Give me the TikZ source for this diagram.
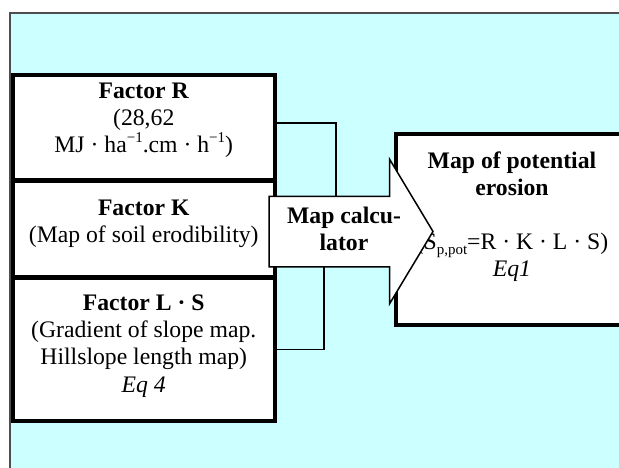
\documentclass[tikz,border=0pt]{standalone}
\usepackage{fontspec}
\setmainfont{Liberation Serif}
\usetikzlibrary{positioning}
\usetikzlibrary{shapes.arrows}
\definecolor{panelcyan}{HTML}{CCFFFF}
\definecolor{panelrule}{HTML}{4D4D4D}
\newcommand{\upidx}[1]{\raisebox{0.42em}{\fontsize{15}{15}\selectfont #1}}
\newcommand{\downidx}[1]{\raisebox{-0.22em}{\fontsize{15}{15}\selectfont #1}}
\tikzset{
    % Body text of the whole figure
    every node/.style={font=\fontsize{23.7}{27.2}\selectfont},
%
    % Heavy framed box around each input map
    factor box/.style={
        draw, line width=4pt, fill=white, rectangle,
        inner sep=0pt, minimum width=262.5pt},
%
    % Text set inside the boxes
    box text/.style={align=center, inner sep=0pt},
%
    % Thin feed lines into the calculator
    feed/.style={draw, line width=1.5pt},
%
    % The calculator drawn as a fat arrow
    calc arrow/.style={
        draw, line width=1.5pt, fill=white, single arrow,
        minimum height=164pt, minimum width=143pt,
        single arrow head extend=37pt, single arrow tip angle=118,
        inner xsep=0pt, inner ysep=34.5pt, outer sep=0pt}}

\begin{document}
\begin{tikzpicture}[x=1pt, y=-1pt]
\useasboundingbox (0,0) rectangle (619,467);
\clip (0,0) rectangle (619,467);

% background panel
\draw[panelrule, line width=2pt, fill=panelcyan] (10,12.5) rectangle (700,600);

\coordinate (rfeed) at (336,197);
\coordinate (lsfeed) at (324,266);

\node (rfactor) [factor box, minimum height=105pt] at (143.75,127.5) {};
\node (kfactor) [factor box, minimum height=96pt] at (143.75,229) {};
\node (lsfactor) [factor box, minimum height=143pt] at (143.75,349.5) {};

\draw[feed] ([yshift=4.5pt]rfactor.east) -| (rfeed);
\draw[feed] (lsfactor.east) -| (lsfeed);

\node (rtext) [box text] at (rfactor.center) [yshift=7pt]
    {\textbf{Factor R}\\(28,62\\MJ · ha\upidx{−1}.cm · h\upidx{−1})};
\node (ktext) [box text] at (kfactor.center) [yshift=5pt]
    {\textbf{Factor K}\\(Map of soil erodibility)};
\node (lstext) [box text] at (lsfactor.center) [yshift=3.5pt]
    {\textbf{Factor L · S}\\(Gradient of slope map.\\Hillslope length map)\\\textit{Eq 4}};

% output map, open to the right
\node (erosion) [factor box, minimum width=233.5pt, minimum height=191pt]
    at (512.25,229.5) {};
\node (erosiontext) [box text] at (512,216.5)
    {\textbf{Map of potential}\\\textbf{erosion}\\[27pt]
     (S\downidx{p,pot}=R · K · L · S)\\\textit{Eq1}};

\node (calculator) [calc arrow, anchor=tail] at (269,231.5) {};
\node (calctext) [box text] at (344,229) {\textbf{Map calcu-}\\\textbf{lator}};

\end{tikzpicture}
\end{document}
